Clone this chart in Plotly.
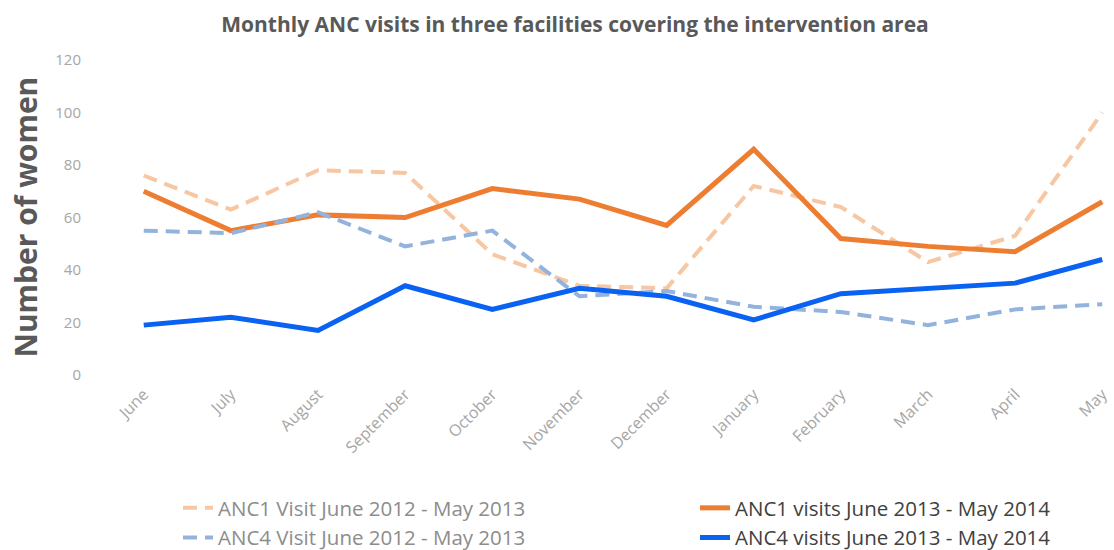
import plotly.graph_objects as go

months = ["June", "July", "August", "September", "October", "November",
          "December", "January", "February", "March", "April", "May"]
anc1_2012 = [76, 63, 78, 77, 46, 34, 33, 72, 64, 43, 53, 100]
anc1_2013 = [70, 55, 61, 60, 71, 67, 57, 86, 52, 49, 47, 66]
anc4_2012 = [55, 54, 62, 49, 55, 30, 32, 26, 24, 19, 25, 27]
anc4_2013 = [19, 22, 17, 34, 25, 33, 30, 21, 31, 33, 35, 44]

FONT = "Open Sans"
x = list(range(len(months)))

fig = go.Figure()
fig.add_trace(go.Scatter(
    x=x, y=anc1_2012, mode="lines", name="ANC1 Visit June 2012 - May 2013",
    line=dict(color="#F7C6A2", width=4, dash="14px,8px"),
    legend="legend", legendgroup="a"))
fig.add_trace(go.Scatter(
    x=x, y=anc1_2013, mode="lines",
    name="<span style='color:#404040'>ANC1 visits June 2013 - May 2014</span>",
    line=dict(color="#ED7D31", width=5),
    legend="legend2", legendgroup="c"))
fig.add_trace(go.Scatter(
    x=x, y=anc4_2012, mode="lines", name="ANC4 Visit June 2012 - May 2013",
    line=dict(color="#93B3DD", width=4, dash="14px,8px"),
    legend="legend", legendgroup="b"))
fig.add_trace(go.Scatter(
    x=x, y=anc4_2013, mode="lines",
    name="<span style='color:#404040'>ANC4 visits June 2013 - May 2014</span>",
    line=dict(color="#0A62F2", width=5),
    legend="legend2", legendgroup="d"))

fig.update_layout(
    width=1114, height=550,
    margin=dict(l=142, r=10, t=60, b=175, autoexpand=False),
    paper_bgcolor="white", plot_bgcolor="white",
    font=dict(family=FONT),
    title=dict(
        text="<b>Monthly ANC visits in three facilities covering the intervention area</b>",
        x=575 / 1114, xanchor="center", y=1 - 25 / 550, yanchor="middle",
        font=dict(size=21, color="#595959", family=FONT)),
    xaxis=dict(
        range=[-0.02, 11.02], tickmode="array", tickvals=x, ticktext=months,
        tickangle=-45, showgrid=False, zeroline=False, showline=False,
        ticklabelstandoff=6, ticklabeloverflow="allow",
        tickfont=dict(size=16, color="#A6A6A6", family=FONT)),
    yaxis=dict(
        range=[0, 120], tickvals=[0, 20, 40, 60, 80, 100, 120],
        showgrid=False, zeroline=False, showline=False,
        ticklabelstandoff=60,
        tickfont=dict(size=15, color="#A6A6A6", family=FONT)),
    annotations=[dict(
        text="<b>Number of women</b>", textangle=-90,
        xref="paper", yref="paper", x=(25 - 142) / 962, y=0.5,
        xanchor="center", yanchor="middle", showarrow=False,
        font=dict(size=30, color="#595959", family=FONT))],
    legend=dict(
        orientation="v", xref="container", yref="container",
        x=178 / 1114, y=1 - 488 / 550, xanchor="left", yanchor="top",
        font=dict(size=20.5, color="#8C8C8C", family=FONT),
        tracegroupgap=0, bgcolor="rgba(0,0,0,0)"),
    legend2=dict(
        orientation="v", xref="container", yref="container",
        x=695 / 1114, y=1 - 488 / 550, xanchor="left", yanchor="top",
        font=dict(size=20.5, color="#404040", family=FONT),
        tracegroupgap=0, bgcolor="rgba(0,0,0,0)"),
)

fig.write_html("out.html", config={"displayModeBar": False},
               post_script="document.body.style.margin='0px';")
